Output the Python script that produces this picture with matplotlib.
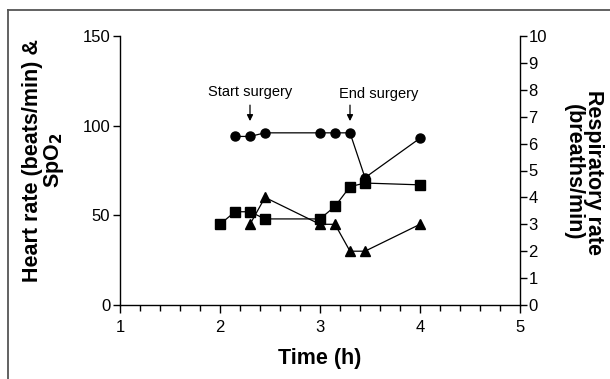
import matplotlib
matplotlib.use("Agg")
import matplotlib.pyplot as plt
from matplotlib.lines import Line2D

plt.rcParams['font.family'] = ['Liberation Sans', 'DejaVu Sans']

# data
t_spo2 = [2.15, 2.3, 2.45, 3.0, 3.15, 3.3, 3.45, 4.0]
spo2 = [94, 94, 96, 96, 96, 96, 71, 93]
t_hr = [2.0, 2.15, 2.3, 2.45, 3.0, 3.15, 3.3, 3.45, 4.0]
hr = [45, 52, 52, 48, 48, 55, 66, 68, 67]
t_rr = [2.3, 2.45, 3.0, 3.15, 3.3, 3.45, 4.0]
rr = [3, 4, 3, 3, 2, 2, 3]

fig = plt.figure(figsize=(6.1, 3.79), dpi=100)
ax = fig.add_axes([120/610, 1-305/379, 400/610, 269/379])
ax2 = ax.twinx()

ax.plot(t_spo2, spo2, '-o', color='black', lw=0.9, ms=6.5)
ax.plot(t_hr, hr, '-s', color='black', lw=0.9, ms=7)
ax2.plot(t_rr, rr, '-^', color='black', lw=0.9, ms=6.5)

ax.set_xlim(1, 5)
ax.set_ylim(0, 150)
ax2.set_ylim(0, 10)
ax.set_xticks([1, 2, 3, 4, 5])
ax.set_xticks([1 + 0.2*i for i in range(21)], minor=True)
ax.set_yticks([0, 50, 100, 150])
ax2.set_yticks(range(0, 11))

for a in (ax, ax2):
    a.spines['top'].set_visible(False)
    for s in a.spines.values():
        s.set_linewidth(1.0)
ax.spines['right'].set_visible(False)
ax2.spines['left'].set_visible(False)
ax2.spines['bottom'].set_visible(False)

ax.tick_params(axis='x', which='major', length=6, width=1, pad=5, labelsize=12)
ax.tick_params(axis='x', which='minor', length=4, width=1)
ax.tick_params(axis='y', length=5, width=1, pad=2, labelsize=12)
ax2.tick_params(axis='y', length=5, width=1, pad=1, labelsize=12)

ax.set_xlabel('Time (h)', fontsize=15.5, fontweight='bold', labelpad=9)

fig.text(44/610, 1-160/379, 'Heart rate (beats/min) &\nSpO$_\\mathbf{2}$', rotation=90,
         ha='center', va='center', multialignment='center', fontsize=15.5,
         fontweight='bold', linespacing=0.95)
fig.text(583/610, 1-172/379, 'Respiratory rate\n(breaths/min)', rotation=-90,
         ha='center', va='center', multialignment='center', fontsize=15.5,
         fontweight='bold', linespacing=0.95)

arrow = dict(arrowstyle='-|>', color='black', lw=0.9, mutation_scale=9)
ax.annotate('', xy=(2.3, 101), xytext=(2.3, 113), arrowprops=arrow)
ax.annotate('', xy=(3.3, 101), xytext=(3.3, 113), arrowprops=arrow)
ax.text(2.3, 118.5, 'Start surgery', ha='center', va='center', fontsize=10.5)
ax.text(3.59, 117.5, 'End surgery', ha='center', va='center', fontsize=10.5)

# frame around the figure
fig.add_artist(Line2D([8/610, 8/610], [0, 1-10/379], color='#555555', lw=1.3))
fig.add_artist(Line2D([8/610, 1], [1-10/379, 1-10/379], color='#555555', lw=1.3))

fig.savefig('out.png', dpi=100)
